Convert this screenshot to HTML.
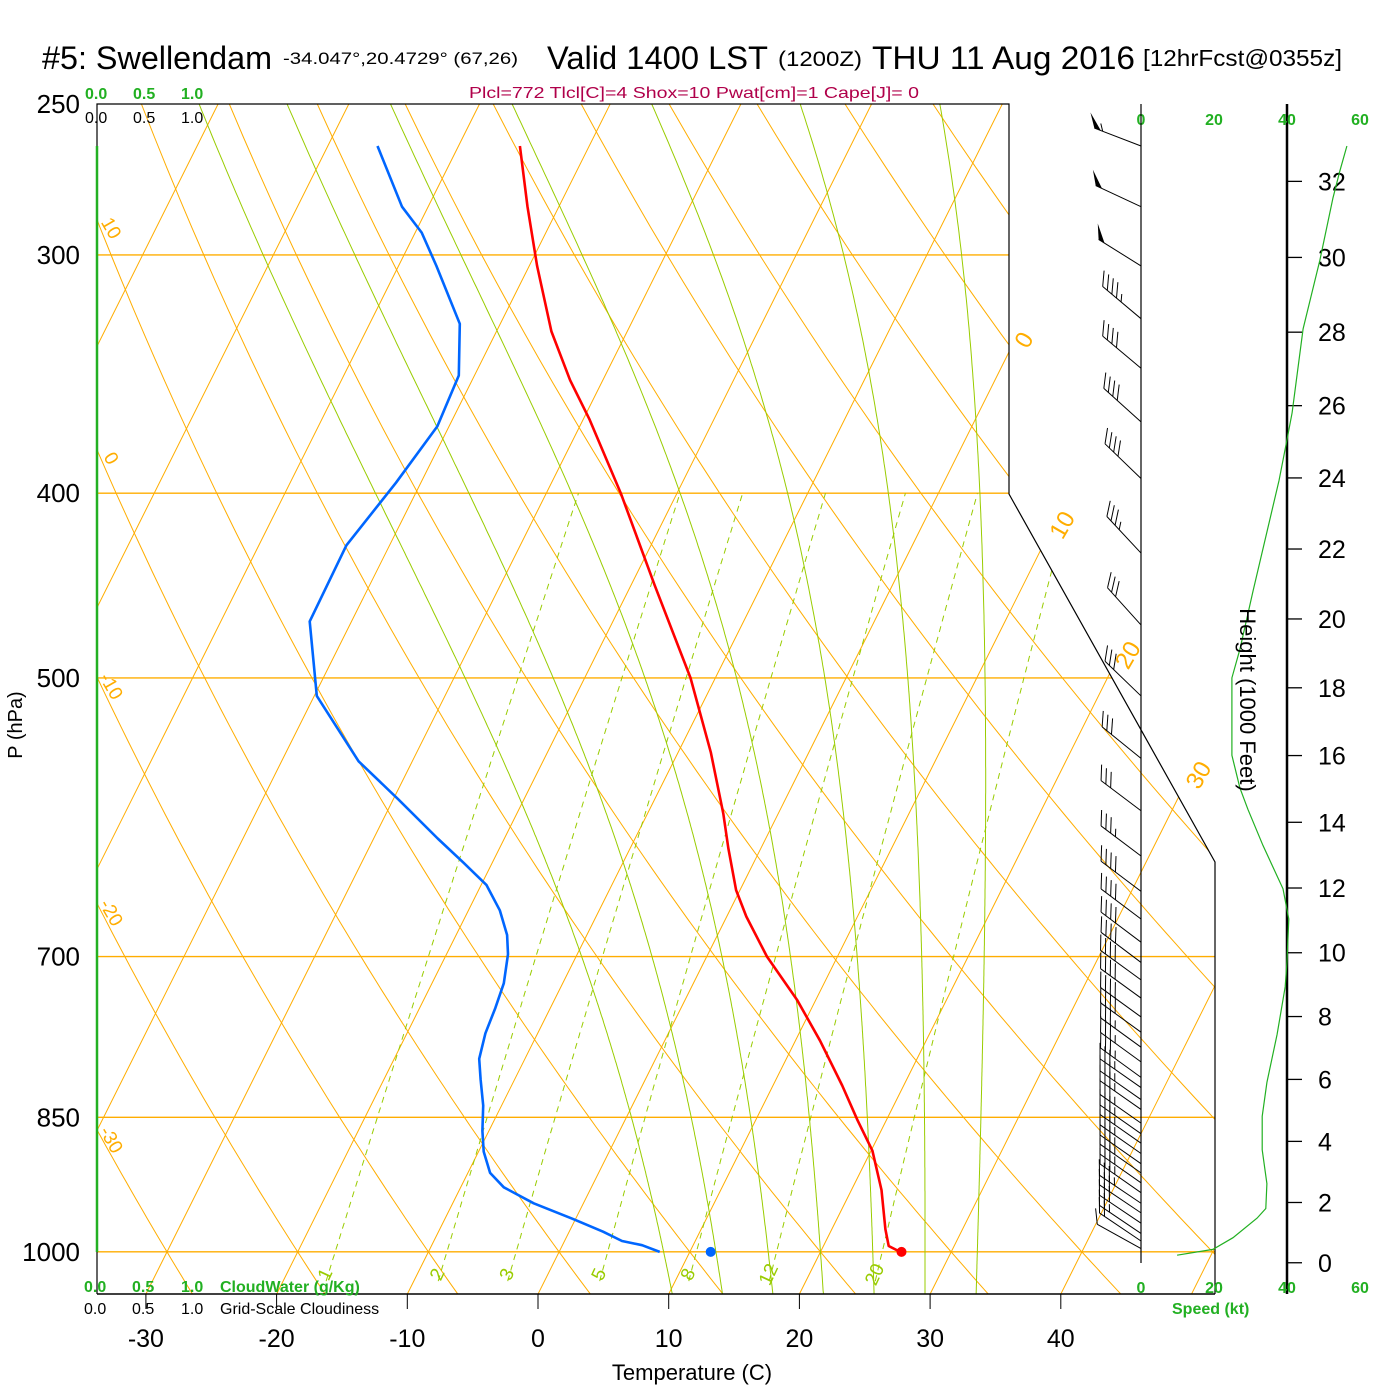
<!DOCTYPE html>
<html><head><meta charset="utf-8"><title>Skew-T Swellendam</title>
<style>
html,body{margin:0;padding:0;background:#fff;}
svg{display:block;font-family:"Liberation Sans",Arial,sans-serif;}
</style></head>
<body>
<svg id="chart" width="1400" height="1400" viewBox="0 0 1400 1400" xmlns="http://www.w3.org/2000/svg">
<defs>
<clipPath id="frameClip"><polygon points="97,104 1009,104 1009,494 1215,862 1215,1294 97,1294"/></clipPath>
</defs>
<rect x="0" y="0" width="1400" height="1400" fill="#fff"/>
<g id="title">
<text x="42" y="69" font-size="32" textLength="230" lengthAdjust="spacingAndGlyphs">#5: Swellendam</text>
<text x="283" y="64" font-size="17" textLength="235" lengthAdjust="spacingAndGlyphs">-34.047°,20.4729° (67,26)</text>
<text x="547" y="69" font-size="32" textLength="221" lengthAdjust="spacingAndGlyphs">Valid 1400 LST</text>
<text x="778" y="66" font-size="21" textLength="84" lengthAdjust="spacingAndGlyphs">(1200Z)</text>
<text x="872" y="69" font-size="32" textLength="263" lengthAdjust="spacingAndGlyphs">THU 11 Aug 2016</text>
<text x="1143" y="66" font-size="23" textLength="199" lengthAdjust="spacingAndGlyphs">[12hrFcst@0355z]</text>
<text x="469" y="98" font-size="16" fill="#b0004a" textLength="450" lengthAdjust="spacingAndGlyphs">Plcl=772 Tlcl[C]=4 Shox=10 Pwat[cm]=1 Cape[J]= 0</text>
</g>
<g id="grid" clip-path="url(#frameClip)"></g>
<g id="frame">
<polyline points="97,146 97,104 1009,104 1009,494 1215,862 1215,1294" fill="none" stroke="#000" stroke-width="1.2"/>
<line x1="97" y1="146" x2="97" y2="1252" stroke="#22b022" stroke-width="2.5"/>
<line x1="97" y1="1252" x2="97" y2="1294" stroke="#000" stroke-width="1.2"/>
<line x1="97" y1="1294" x2="1215" y2="1294" stroke="#000" stroke-width="1.5"/>
</g>
<g id="axes"></g>
<g id="profiles"></g>
<g id="winds"></g>
<g id="labels">
<text x="22" y="725" font-size="20" text-anchor="middle" transform="rotate(-90 22 725)">P (hPa)</text>
<text x="692" y="1380" font-size="22" text-anchor="middle">Temperature (C)</text>
<text x="1240" y="700" font-size="22" text-anchor="middle" transform="rotate(90 1240 700)">Height (1000 Feet)</text>
<g font-size="16" font-weight="bold" fill="#22b022">
<text x="85" y="99">0.0</text>
<text x="133" y="99">0.5</text>
<text x="181" y="99">1.0</text>
<text x="84" y="1292">0.0</text>
<text x="132" y="1292">0.5</text>
<text x="181" y="1292">1.0</text>
<text x="220" y="1292">CloudWater (g/Kg)</text>
<text x="1172" y="1314">Speed (kt)</text>
</g>
<g font-size="16" fill="#000">
<text x="85" y="123">0.0</text>
<text x="133" y="123">0.5</text>
<text x="181" y="123">1.0</text>
<text x="84" y="1314">0.0</text>
<text x="132" y="1314">0.5</text>
<text x="181" y="1314">1.0</text>
<text x="220" y="1314">Grid-Scale Cloudiness</text>
</g>
</g>
</svg>
<script>
// ---- data ----
const pressureTicks = [250, 300, 400, 500, 700, 850, 1000];
const tempTicks = [-30, -20, -10, 0, 10, 20, 30, 40];
const heightTicks = [0, 2, 4, 6, 8, 10, 12, 14, 16, 18, 20, 22, 24, 26, 28, 30, 32];
const speedTicks = [0, 20, 40, 60];
const isothermLabels = [0, 10, 20, 30];
const dryAdiabatLabels = [10, 0, -10, -20, -30];
const moistThetaW = [8, 12, 16, 20, 24, 28, 32];
const mixingRatios = [1, 2, 3, 5, 8, 12, 20];
const tempP = [263, 283, 304, 329, 349, 366, 400, 447, 500, 547, 589, 614, 646, 667, 700, 738, 775, 818, 853, 885, 928, 973, 993, 1000];
const tempT = [-45.3, -42.4, -39.4, -35.8, -32.5, -29.5, -24.3, -18.2, -11.9, -7.5, -4.2, -2.5, -0.3, 1.5, 4.6, 8.6, 11.9, 15.3, 17.8, 20.1, 22.3, 24.1, 25.0, 26.1];
const dewP = [263, 283, 292, 304, 326, 347, 369, 395, 426, 467, 511, 553, 579, 607, 625, 642, 662, 682, 698, 723, 745, 768, 792, 812, 838, 864, 886, 909, 925, 943, 961, 976, 987, 992, 1000];
const dewT = [-56.2, -52.0, -49.5, -47.1, -43.1, -41.2, -40.9, -41.9, -43.3, -43.2, -39.8, -34.1, -29.6, -25.1, -22.2, -19.6, -17.6, -16.1, -15.3, -14.5, -14.2, -14.0, -13.5, -12.6, -11.4, -10.5, -9.6, -8.3, -6.7, -3.8, -0.2, 2.6, 4.4, 6.1, 7.7];
const sfcTemp = 26.2;
const sfcDew = 11.6;
const barbP = [263, 283, 304, 324, 344, 367, 393, 430, 469, 511, 551, 587, 620, 647, 669, 688, 705, 720, 736, 753, 767, 781, 795, 810, 820, 832, 842, 856, 867, 877, 888, 899, 909, 920, 931, 943, 954, 966, 978, 987, 996];
const barbDir = [291, 295, 302, 310, 310, 312, 314, 317, 318, 314, 309, 307, 307, 307, 307, 307, 307, 306, 306, 306, 306, 306, 306, 306, 305, 305, 305, 305, 305, 305, 305, 305, 305, 305, 305, 304, 304, 304, 304, 304, 299];
const barbSpd = [55, 50, 50, 45, 40, 40, 40, 35, 30, 30, 30, 30, 35, 40, 40, 40, 40, 40, 40, 40, 40, 35, 35, 35, 35, 35, 35, 35, 35, 35, 35, 35, 35, 35, 35, 35, 30, 30, 25, 20, 10];
const speedP = [263, 271, 280, 302, 328, 363, 375, 394, 450, 483, 500, 549, 571, 586, 612, 645, 669, 704, 726, 769, 815, 849, 884, 921, 949, 960, 983, 997, 1004];
const speedKt = [56.4, 54.5, 52.6, 49.0, 44.4, 41.4, 40.0, 37.8, 30.7, 27.1, 24.9, 24.9, 27.1, 29.3, 33.4, 38.9, 40.5, 40.0, 39.5, 37.3, 34.5, 33.2, 33.2, 34.5, 34.2, 31.8, 25.2, 19.7, 9.9];

// ---- scales ----
const NS = 'http://www.w3.org/2000/svg';
function yP(p) { return 104 + 828 * Math.log(p / 250); }
function xT(T, y) { return 538 + 13.07 * T + 0.5 * (1294 - y); }
function xSpd(s) { return 1141 + 3.65 * s; }
function pOfH(kft) { return 1013.25 * Math.pow(1 - kft * 304.8 / 44330.8, 5.2559); }
function mk(tag, attrs, parent) {
  const el = document.createElementNS(NS, tag);
  for (const k in attrs) el.setAttribute(k, attrs[k]);
  parent.appendChild(el);
  return el;
}
function pathFrom(pts) { return pts.map((q, i) => (i ? 'L' : 'M') + q[0].toFixed(1) + ',' + q[1].toFixed(1)).join(''); }
function es(Tc) { return 6.112 * Math.exp(17.67 * Tc / (Tc + 243.5)); }
function tdFromE(e) { const l = Math.log(e / 6.112); return 243.5 * l / (17.67 - l); }

const grid = document.getElementById('grid');
const axes = document.getElementById('axes');
const prof = document.getElementById('profiles');
const winds = document.getElementById('winds');
const labels = document.getElementById('labels');
const ORANGE = '#ffad00';
const GREEN2 = '#99cc00';

// isobars
pressureTicks.forEach(p => {
  if (p === 250) return;
  const y = yP(p);
  const l = mk('line', { x1: 97, y1: y, x2: 1215, y2: y, stroke: ORANGE, 'stroke-width': 1.4 }, grid);
  
  
});
// isotherms
for (let T = -120; T <= 60; T += 10) {
  const pts = [[xT(T, yP(1060)), yP(1060)], [xT(T, yP(240)), yP(240)]];
  const el = mk('path', { d: pathFrom(pts), stroke: ORANGE, 'stroke-width': 1, fill: 'none' }, grid);
  
  
}
// dry adiabats
for (let th = -50; th <= 200; th += 10) {
  const pts = [];
  for (let p = 1060; p >= 240; p -= 10) {
    const T = (th + 273.15) * Math.pow(p / 1000, 0.2857) - 273.15;
    const y = yP(p); pts.push([xT(T, y), y]);
  }
  const el = mk('path', { d: pathFrom(pts), stroke: ORANGE, 'stroke-width': 1, fill: 'none' }, grid);
  
  
}
// moist adiabats
function dTdp(T, p) {
  const e = es(T - 273.15); const rs = 0.622 * e / (p - e);
  const Rd = 287.04, cp = 1005.7, Lv = 2.501e6;
  return (Rd * T + Lv * rs) / (p * (cp + Lv * Lv * rs * 0.622 / (Rd * T * T)));
}
moistThetaW.forEach(tw => {
  const up = []; let T = tw + 273.15;
  for (let p = 1000; p >= 240; p -= 2) { const y = yP(p); up.push([xT(T - 273.15, y), y]); T -= dTdp(T, p) * 2; }
  const dn = []; T = tw + 273.15;
  for (let p = 1000; p <= 1060; p += 2) { const y = yP(p); dn.push([xT(T - 273.15, y), y]); T += dTdp(T, p) * 2; }
  const pts = dn.reverse().concat(up);
  const el = mk('path', { d: pathFrom(pts), stroke: GREEN2, 'stroke-width': 1, fill: 'none' }, grid);
  
  
});
// mixing ratio lines
mixingRatios.forEach(w => {
  const pts = [];
  for (let p = 1036; p >= 400; p -= 4) {
    const e = w * p / (622 + w); const y = yP(p); pts.push([xT(tdFromE(e), y), y]);
  }
  const el = mk('path', { d: pathFrom(pts), stroke: GREEN2, 'stroke-width': 1, fill: 'none', 'stroke-dasharray': '6,5' }, grid);
  
  
  const yl = 1277; const e2 = w * 1040 / (622 + w);
  const xl = xT(tdFromE(e2), yl) + 2;
  const t = mk('text', { x: xl, y: yl, fill: GREEN2, 'font-size': 19, 'text-anchor': 'middle', transform: 'rotate(-65 ' + xl + ' ' + yl + ')' }, labels);
  t.textContent = String(w);
  
  
});
// isotherm labels
const isoLabelY = { 0: 340, 10: 525, 20: 655, 30: 775 };
isothermLabels.forEach(T => {
  const y = isoLabelY[T]; const x = xT(T, y) + 9;
  const t = mk('text', { x: x, y: y + 8, fill: ORANGE, 'font-size': 24, 'text-anchor': 'middle', transform: 'rotate(-60 ' + x + ' ' + y + ')' }, labels);
  t.textContent = String(T);
  
  
});
// dry adiabat labels on left edge
dryAdiabatLabels.forEach(th => {
  let best = null;
  for (let p = 250; p <= 1050; p += 1) {
    const T = (th + 273.15) * Math.pow(p / 1000, 0.2857) - 273.15;
    const y = yP(p); if (xT(T, y) <= 97) { best = y; } else if (best !== null) break;
  }
  if (best === null) return;
  const x = 111, y = best + 10;
  const t = mk('text', { x: x, y: y + 6, fill: ORANGE, 'font-size': 19, 'text-anchor': 'middle', transform: 'rotate(60 ' + x + ' ' + y + ')' }, labels);
  t.textContent = String(th);
  
  
});
// pressure labels
pressureTicks.forEach(p => {
  const t = mk('text', { x: 80, y: yP(p) + 9, 'font-size': 26, 'text-anchor': 'end' }, axes);
  t.textContent = String(p);
  
  
});
// temperature ticks
tempTicks.forEach(T => {
  const x = xT(T, 1294);
  const l = mk('line', { x1: x, y1: 1294, x2: x, y2: 1309, stroke: '#000', 'stroke-width': 1 }, axes);
  
  
  const t = mk('text', { x: x, y: 1347, 'font-size': 25, 'text-anchor': 'middle' }, axes);
  t.textContent = String(T);
  
  
});
// height axis
const hAxis = mk('line', { x1: 1287, y1: 104, x2: 1287, y2: 1294, stroke: '#000', 'stroke-width': 2.5 }, axes);


heightTicks.forEach(h => {
  const y = yP(pOfH(h));
  const l = mk('line', { x1: 1287, y1: y, x2: 1302, y2: y, stroke: '#000', 'stroke-width': 1.3 }, axes);
  
  
  const t = mk('text', { x: 1318, y: y + 9, 'font-size': 25 }, axes);
  t.textContent = String(h);
  
  
});
// speed axis labels
speedTicks.forEach(s => {
  [125, 1293].forEach(y => {
    const t = mk('text', { x: xSpd(s), y: y, 'font-size': 16, 'font-weight': 'bold', fill: '#22b022', 'text-anchor': 'middle' }, axes);
    t.textContent = String(s);
    
    
  });
});
// staff line
const staff = mk('line', { x1: 1141, y1: 104, x2: 1141, y2: 1263, stroke: '#000', 'stroke-width': 1.2 }, winds);


// speed profile
const spPts = speedP.map((p, i) => [xSpd(speedKt[i]), yP(p)]);
const sp = mk('path', { d: pathFrom(spPts), stroke: '#22b022', 'stroke-width': 1.2, fill: 'none' }, prof);


// temperature & dewpoint
const tPts = tempP.map((p, i) => { const y = yP(p); return [xT(tempT[i], y), y]; });
const tl = mk('path', { d: pathFrom(tPts), stroke: '#ff0000', 'stroke-width': 2.6, fill: 'none', 'stroke-linejoin': 'round' }, prof);


const dPts = dewP.map((p, i) => { const y = yP(p); return [xT(dewT[i], y), y]; });
const dl = mk('path', { d: pathFrom(dPts), stroke: '#0066ff', 'stroke-width': 2.6, fill: 'none', 'stroke-linejoin': 'round' }, prof);


const y0 = yP(1000);
const sT = mk('circle', { cx: xT(sfcTemp, y0), cy: y0, r: 5, fill: '#ff0000' }, prof);


const sD = mk('circle', { cx: xT(sfcDew, y0), cy: y0, r: 5, fill: '#0066ff' }, prof);


// wind barbs
barbP.forEach((p, i) => {
  const by = yP(p), bx = 1141, L = 50;
  const d = barbDir[i] * Math.PI / 180;
  const ux = Math.sin(d), uy = -Math.cos(d);
  const tx = bx + L * ux, ty = by + L * uy;
  const g = mk('g', {}, winds);
  
  
  mk('line', { x1: bx, y1: by, x2: tx, y2: ty, stroke: '#000', 'stroke-width': 1 }, g);
  const ang = Math.atan2(uy, ux) + 55 * Math.PI / 180;
  const vx = Math.cos(ang), vy = Math.sin(ang);
  let s = barbSpd[i]; let pos = 0; const step = 6;
  while (s >= 50) {
    const ax = tx - ux * pos, ay = ty - uy * pos;
    const cx = tx - ux * (pos + 7), cy = ty - uy * (pos + 7);
    mk('polygon', { points: ax + ',' + ay + ' ' + (ax + vx * 16) + ',' + (ay + vy * 16) + ' ' + cx + ',' + cy, fill: '#000' }, g);
    pos += 9; s -= 50;
  }
  while (s >= 10) {
    const ax = tx - ux * pos, ay = ty - uy * pos;
    mk('line', { x1: ax, y1: ay, x2: ax + vx * 16, y2: ay + vy * 16, stroke: '#000', 'stroke-width': 1 }, g);
    pos += step; s -= 10;
  }
  if (s >= 5) {
    if (pos === 0) pos = step;
    const ax = tx - ux * pos, ay = ty - uy * pos;
    mk('line', { x1: ax, y1: ay, x2: ax + vx * 8, y2: ay + vy * 8, stroke: '#000', 'stroke-width': 1 }, g);
  }
});
</script>
</body></html>
